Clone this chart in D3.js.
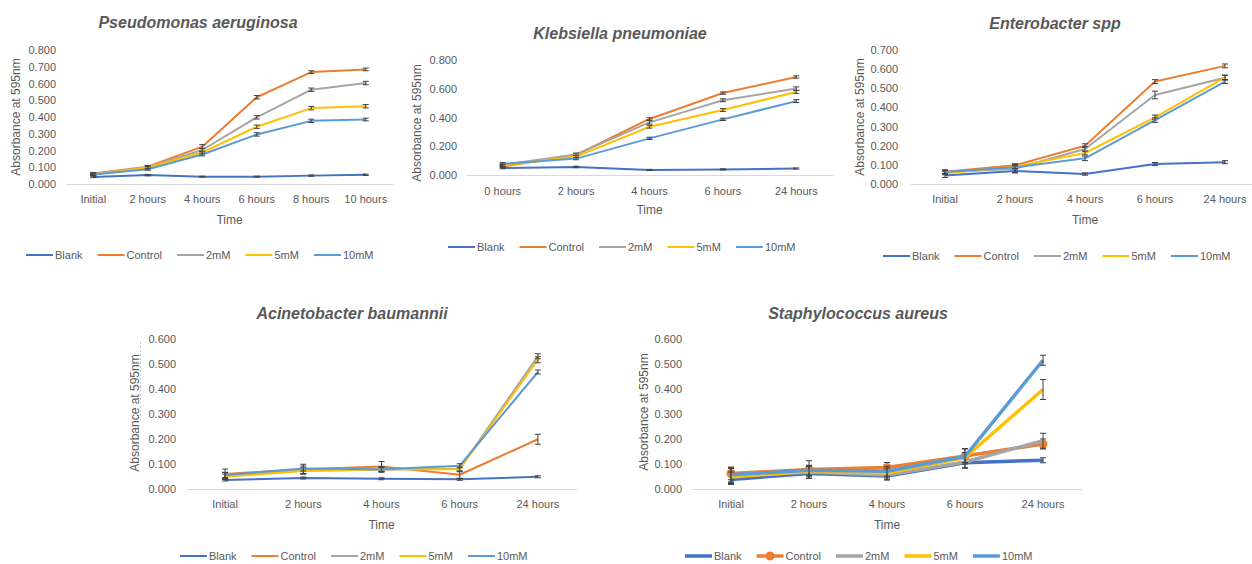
<!DOCTYPE html>
<html>
<head>
<meta charset="utf-8">
<script src="https://cdn.jsdelivr.net/npm/d3@7"></script>
<style>
  body { margin: 0; background: #fff; }
  svg { display: block; font-family: "Liberation Sans", Arial, sans-serif; }
</style>
</head>
<body>
<svg id="chart" width="1252" height="564"></svg>
<script>
const seriesNames = ["Blank", "Control", "2mM", "5mM", "10mM"];
const seriesColors = ["#4472C4", "#ED7D31", "#A5A5A5", "#FFC000", "#5B9BD5"];

const hoursSix = ["Initial", "2 hours", "4 hours", "6 hours", "8 hours", "10 hours"];
const hoursZero = ["0 hours", "2 hours", "4 hours", "6 hours", "24 hours"];
const hoursFive = ["Initial", "2 hours", "4 hours", "6 hours", "24 hours"];

// Pseudomonas aeruginosa (rows follow seriesNames)
const paMeans = [
  [0.042, 0.053, 0.044, 0.044, 0.050, 0.055],
  [0.063, 0.103, 0.223, 0.518, 0.668, 0.684],
  [0.060, 0.100, 0.203, 0.398, 0.563, 0.603],
  [0.056, 0.098, 0.188, 0.342, 0.453, 0.464],
  [0.056, 0.088, 0.176, 0.296, 0.377, 0.385]
];
const paErrors = [
  [0.004, 0.004, 0.003, 0.003, 0.004, 0.004],
  [0.006, 0.008, 0.012, 0.010, 0.008, 0.008],
  [0.006, 0.008, 0.010, 0.010, 0.010, 0.010],
  [0.005, 0.006, 0.008, 0.010, 0.010, 0.010],
  [0.005, 0.006, 0.008, 0.010, 0.010, 0.008]
];

// Klebsiella pneumoniae
const kpMeans = [
  [0.048, 0.056, 0.035, 0.039, 0.045],
  [0.058, 0.139, 0.390, 0.570, 0.682],
  [0.072, 0.143, 0.366, 0.520, 0.601],
  [0.066, 0.128, 0.336, 0.452, 0.578],
  [0.078, 0.114, 0.255, 0.387, 0.514]
];
const kpErrors = [
  [0.005, 0.005, 0.004, 0.004, 0.004],
  [0.008, 0.008, 0.008, 0.008, 0.008],
  [0.010, 0.010, 0.012, 0.010, 0.012],
  [0.008, 0.008, 0.010, 0.010, 0.010],
  [0.008, 0.008, 0.008, 0.008, 0.010]
];

// Enterobacter spp
const ebMeans = [
  [0.044, 0.068, 0.052, 0.104, 0.114],
  [0.064, 0.098, 0.200, 0.535, 0.617],
  [0.062, 0.080, 0.183, 0.465, 0.555],
  [0.056, 0.090, 0.162, 0.348, 0.557],
  [0.063, 0.087, 0.134, 0.334, 0.535]
];
const ebErrors = [
  [0.010, 0.010, 0.006, 0.008, 0.008],
  [0.010, 0.008, 0.010, 0.010, 0.010],
  [0.010, 0.020, 0.012, 0.020, 0.012],
  [0.008, 0.008, 0.010, 0.012, 0.012],
  [0.008, 0.008, 0.012, 0.012, 0.010]
];

// Acinetobacter baumannii
const abMeans = [
  [0.036, 0.044, 0.041, 0.039, 0.049],
  [0.060, 0.079, 0.090, 0.057, 0.199],
  [0.055, 0.074, 0.077, 0.082, 0.531],
  [0.049, 0.072, 0.079, 0.079, 0.517],
  [0.056, 0.082, 0.079, 0.093, 0.468]
];
const abErrors = [
  [0.004, 0.004, 0.004, 0.004, 0.004],
  [0.020, 0.020, 0.020, 0.015, 0.020],
  [0.012, 0.012, 0.010, 0.010, 0.010],
  [0.010, 0.010, 0.010, 0.010, 0.012],
  [0.010, 0.010, 0.008, 0.008, 0.008]
];

// Staphylococcus aureus
const saMeans = [
  [0.038, 0.062, 0.052, 0.105, 0.115],
  [0.062, 0.078, 0.086, 0.132, 0.180],
  [0.052, 0.068, 0.056, 0.108, 0.193],
  [0.048, 0.071, 0.064, 0.126, 0.398],
  [0.057, 0.075, 0.071, 0.130, 0.515]
];
const saErrors = [
  [0.020, 0.020, 0.015, 0.020, 0.010],
  [0.025, 0.035, 0.020, 0.030, 0.020],
  [0.030, 0.025, 0.020, 0.025, 0.030],
  [0.020, 0.020, 0.020, 0.020, 0.040],
  [0.030, 0.020, 0.020, 0.030, 0.020]
];

const textColor = "#595959";

// Panel layout (pixel geometry only)
const panels = [
  { title: "Pseudomonas aeruginosa", cats: hoursSix, means: paMeans, errs: paErrors,
    x0: 66, x1: 393, yBottom: 184, yTop: 50, yMax: 0.8, step: 0.1, tickRight: 56,
    titleX: 198, titleY: 22, yLabelX: 16, yLabelY: 117, catY: 200, timeY: 220,
    legendX: 26, legendY: 255, lineW: 2, markers: false },
  { title: "Klebsiella pneumoniae", cats: hoursZero, means: kpMeans, errs: kpErrors,
    x0: 466, x1: 833, yBottom: 175, yTop: 60, yMax: 0.8, step: 0.2, tickRight: 457,
    titleX: 620, titleY: 33, yLabelX: 417, yLabelY: 123, catY: 192, timeY: 210,
    legendX: 448, legendY: 247, lineW: 2, markers: false },
  { title: "Enterobacter spp", cats: hoursFive, means: ebMeans, errs: ebErrors,
    x0: 910, x1: 1260, yBottom: 184, yTop: 50, yMax: 0.7, step: 0.1, tickRight: 898,
    titleX: 1055, titleY: 23, yLabelX: 860, yLabelY: 117, catY: 200, timeY: 220,
    legendX: 883, legendY: 256, lineW: 2, markers: false },
  { title: "Acinetobacter baumannii", cats: hoursFive, means: abMeans, errs: abErrors,
    x0: 186, x1: 577, yBottom: 489, yTop: 339, yMax: 0.6, step: 0.1, tickRight: 176,
    titleX: 352, titleY: 313, yLabelX: 135, yLabelY: 413, catY: 505, timeY: 525,
    legendX: 180, legendY: 556, lineW: 2, markers: false },
  { title: "Staphylococcus aureus", cats: hoursFive, means: saMeans, errs: saErrors,
    x0: 692, x1: 1082, yBottom: 489, yTop: 339, yMax: 0.6, step: 0.1, tickRight: 682,
    titleX: 858, titleY: 313, yLabelX: 644, yLabelY: 412, catY: 505, timeY: 525,
    legendX: 685, legendY: 556, lineW: 3.5, markers: true }
];

const svg = d3.select("#chart");

// faint selection border left of the Acinetobacter chart
svg.append("line")
  .attr("x1", 140.5).attr("x2", 140.5).attr("y1", 342).attr("y2", 420)
  .attr("stroke", "#c8c8c8").attr("stroke-dasharray", "2,2");

panels.forEach(p => {
  const g = svg.append("g");

  const x = d3.scaleBand().domain(p.cats).range([p.x0, p.x1]);
  const y = d3.scaleLinear().domain([0, p.yMax]).range([p.yBottom, p.yTop]);

  // title
  g.append("text")
    .attr("x", p.titleX).attr("y", p.titleY)
    .attr("text-anchor", "middle").attr("dominant-baseline", "central")
    .attr("font-size", "16px").attr("font-weight", "bold").attr("font-style", "italic")
    .attr("fill", textColor)
    .text(p.title);

  // y axis (labels only)
  const yTicks = d3.range(0, p.yMax + p.step / 2, p.step);
  const yAxis = g.append("g")
    .attr("transform", `translate(${p.tickRight},0)`)
    .call(d3.axisLeft(y).tickValues(yTicks).tickFormat(d3.format(".3f")).tickSize(0).tickPadding(0));
  yAxis.select(".domain").remove();
  yAxis.selectAll("text").attr("font-size", "11px").attr("fill", textColor).attr("font-family", null);

  // x axis
  const xAxis = g.append("g")
    .attr("transform", `translate(0,${p.yBottom})`)
    .call(d3.axisBottom(x).tickSize(0).tickPadding(p.catY - p.yBottom - 5));
  xAxis.select(".domain").attr("stroke", "#d9d9d9").attr("stroke-width", 1);
  xAxis.selectAll("text").attr("font-size", "11px").attr("fill", textColor).attr("font-family", null);

  // axis titles
  g.append("text")
    .attr("x", (p.x0 + p.x1) / 2).attr("y", p.timeY)
    .attr("text-anchor", "middle").attr("dominant-baseline", "central")
    .attr("font-size", "12px").attr("fill", textColor)
    .text("Time");
  g.append("text")
    .attr("transform", `translate(${p.yLabelX},${p.yLabelY}) rotate(-90)`)
    .attr("text-anchor", "middle").attr("dominant-baseline", "central")
    .attr("font-size", "12px").attr("fill", textColor)
    .text("Absorbance at 595nm");

  const cx = c => x(c) + x.bandwidth() / 2;
  const line = d3.line().x(d => cx(d.cat)).y(d => y(d.v));

  p.means.forEach((row, si) => {
    const pts = row.map((v, i) => ({ cat: p.cats[i], v: v, e: p.errs[si][i] }));

    g.append("path")
      .datum(pts)
      .attr("d", line)
      .attr("fill", "none")
      .attr("stroke", seriesColors[si])
      .attr("stroke-width", p.lineW)
      .attr("stroke-linejoin", "round");

    // error bars
    const eb = g.append("g").attr("stroke", "#404040").attr("stroke-width", 1);
    pts.forEach(d => {
      const xc = cx(d.cat);
      eb.append("line").attr("x1", xc).attr("x2", xc).attr("y1", y(d.v - d.e)).attr("y2", y(d.v + d.e));
      eb.append("line").attr("x1", xc - 3).attr("x2", xc + 3).attr("y1", y(d.v - d.e)).attr("y2", y(d.v - d.e));
      eb.append("line").attr("x1", xc - 3).attr("x2", xc + 3).attr("y1", y(d.v + d.e)).attr("y2", y(d.v + d.e));
    });

    if (p.markers && si === 1) {
      g.selectAll(null).data(pts).enter().append("circle")
        .attr("cx", d => cx(d.cat)).attr("cy", d => y(d.v)).attr("r", 4.5)
        .attr("fill", seriesColors[si]);
    }
  });

  // legend
  let lx = p.legendX;
  seriesNames.forEach((name, si) => {
    g.append("line")
      .attr("x1", lx).attr("x2", lx + 27).attr("y1", p.legendY).attr("y2", p.legendY)
      .attr("stroke", seriesColors[si]).attr("stroke-width", p.lineW);
    if (p.markers && si === 1) {
      g.append("circle").attr("cx", lx + 13.5).attr("cy", p.legendY).attr("r", 4.5)
        .attr("fill", seriesColors[si]);
    }
    const t = g.append("text")
      .attr("x", lx + 29).attr("y", p.legendY)
      .attr("dominant-baseline", "central")
      .attr("font-size", "11px").attr("fill", textColor)
      .text(name);
    lx += 29 + t.node().getComputedTextLength() + 15;
  });
});
</script>
</body>
</html>
